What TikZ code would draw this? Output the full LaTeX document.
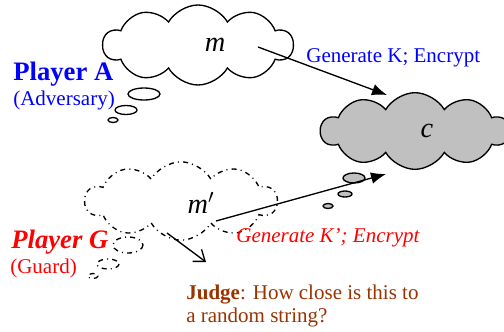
\documentclass[tikz,border=0pt]{standalone}
\usepackage{fontspec}
\setmainfont{Liberation Serif}
\usetikzlibrary{shapes.symbols,arrows.meta,positioning}
\definecolor{myblue}{RGB}{0,0,255}
\definecolor{myred}{RGB}{255,0,0}
\definecolor{mybrown}{RGB}{153,51,0}
\definecolor{mygray}{RGB}{192,192,192}

\begin{document}
\begin{tikzpicture}[x=0.6pt,y=-0.6pt,
    thought/.style={cloud,cloud puffs=10,cloud puff arc=120,draw,thick,inner sep=0pt,
        minimum width=114pt,minimum height=48pt},
    dashdot/.style={dash pattern=on 3pt off 2.5pt on 0.6pt off 2.5pt},
    lbl/.style={anchor=west,inner sep=0pt,font=\fontsize{12.6}{14}\selectfont},
    big/.style={inner sep=0pt,font=\fontsize{17}{20}\selectfont\itshape},
    every node/.style={anchor=base}]
    \useasboundingbox (0,0) rectangle (504,331);
    % Clouds
    \node[thought,anchor=center] (cA) at (198,45) {};
    \node[thought,anchor=center,fill=mygray,minimum width=113pt,minimum height=46pt] (cC) at (415,131) {};
    \node[thought,anchor=center,dashdot,minimum width=115pt,minimum height=47pt] (cG) at (181,201) {};
    % Bubbles
    \draw[thick] (144,94) ellipse (16 and 6) (126,110) ellipse (11 and 4.5) (113,120) ellipse (5 and 2.5);
    \draw[thick,fill=mygray] (354,178) ellipse (11 and 5) (345,194) ellipse (7 and 3) (328,206) ellipse (5 and 2.5);
    \draw[thick,dashdot] (128,245) ellipse (15 and 8) (108,264) ellipse (11 and 5) (93,276) ellipse (5 and 2.5);
    % Contents
    \node[big,anchor=center] (m) at (215,45) {m};
    \node[big,anchor=center] (c) at (427,131) {c};
    \node[big,anchor=center] (mp) at (201,203) {m$'$};
    % Labels
    \node[lbl,text=myblue,font=\fontsize{16}{19}\selectfont\bfseries] (pA) at (13,74) {Player A};
    \node[lbl,text=myblue] (adv) at (13,100) {(Adversary)};
    \node[lbl,text=myblue] (genA) at (306,58) {Generate K; Encrypt};
    \node[lbl,text=myred,font=\fontsize{16}{19}\selectfont\bfseries\itshape] (pG) at (11,242) {Player G};
    \node[lbl,text=myred] (grd) at (10,268) {(Guard)};
    \node[lbl,text=myred,font=\fontsize{12.6}{14}\selectfont\itshape] (genG) at (236,238) {Generate K’; Encrypt};
    \node[lbl,text=mybrown,align=left,font=\fontsize{12.6}{13.4}\selectfont] (judge) at (186,306)
        {\textbf{Judge}: How close is this to\\a random string?};
    % Arrows
    \coordinate (a1) at (258,47);
    \coordinate (t1) at (387,95);
    \coordinate (a2) at (216,221);
    \coordinate (t2) at (386,174);
    \coordinate (a3) at (167,233);
    \coordinate (t3) at (206,262);
    \draw[-{Latex[length=9pt,width=7pt]},thick] (a1) -- (t1);
    \draw[-{Latex[length=9pt,width=7pt]},thick] (a2) -- (t2);
    \draw[-{Straight Barb[length=6pt,width=9pt]},thick] (a3) -- (t3);
\end{tikzpicture}
\end{document}
